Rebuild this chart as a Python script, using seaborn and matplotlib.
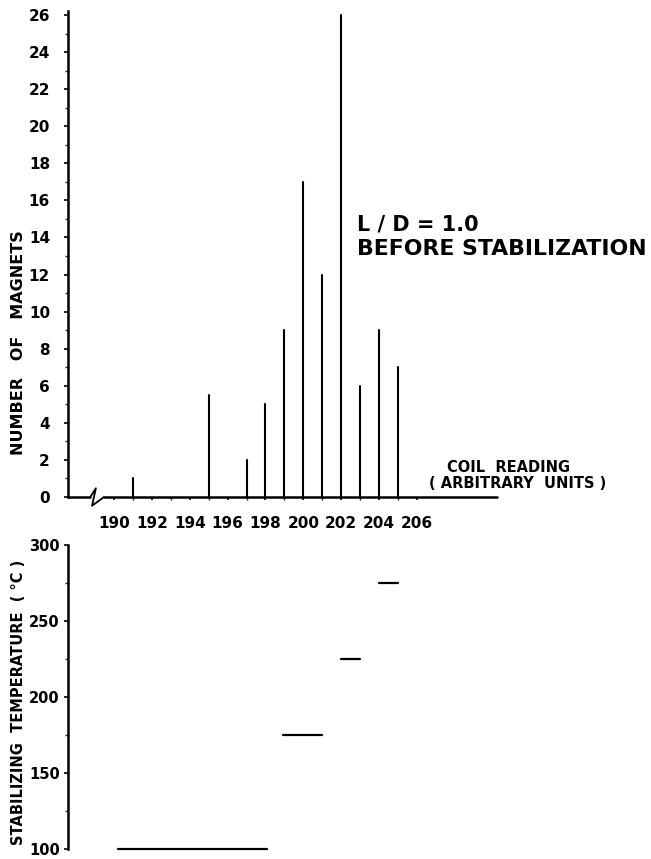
import matplotlib
matplotlib.use("Agg")
import matplotlib.pyplot as plt
from matplotlib.ticker import MultipleLocator, FixedLocator
import seaborn as sns
import pandas as pd

# ---- data ----
coil_reading = [191, 195, 197, 198, 199, 200, 201, 202, 203, 204, 205]
num_magnets = [1, 5.5, 2, 5, 9, 17, 12, 26, 6, 9, 7]

seg_start = [190.2, 198.9, 202.0, 204.0]
seg_end = [198.1, 201.0, 203.0, 205.0]
seg_temp = [100, 175, 225, 275]

x_ticks = [190, 192, 194, 196, 198, 200, 202, 204, 206]
y_ticks_top = [0, 2, 4, 6, 8, 10, 12, 14, 16, 18, 20, 22, 24, 26]
y_ticks_bot = [100, 150, 200, 250, 300]

sns.set_theme(style="ticks")
plt.rcParams["font.family"] = ["DejaVu Sans"]
plt.rcParams["text.color"] = "black"

W, H = 651, 859
fig = plt.figure(figsize=(W / 100, H / 100), dpi=100)

def fx(px):
    return px / W

def fy(py):
    return (H - py) / H

LW = 1.8
XLIM = (187.55, 210.25)

# ---- top panel ----
ax1 = fig.add_axes([fx(68), fy(497), fx(497) - fx(68), (497 - 11.3) / H])
rows = []
for i, (c, n) in enumerate(zip(coil_reading, num_magnets)):
    rows.append({"stick": i, "coil": c, "count": 0})
    rows.append({"stick": i, "coil": c, "count": n})
df_top = pd.DataFrame(rows)
sns.lineplot(data=df_top, x="coil", y="count", units="stick", estimator=None,
             sort=False, color="black", lw=1.5, ax=ax1)
ax1.set_xlim(*XLIM)
ax1.set_ylim(0, 26.2)
ax1.set_xlabel("")
ax1.set_ylabel("")
for s in ["top", "right", "bottom"]:
    ax1.spines[s].set_visible(False)
ax1.spines["left"].set_linewidth(LW)
ax1.spines["left"].set_color("black")

ax1.yaxis.set_major_locator(FixedLocator(y_ticks_top))
ax1.set_yticklabels([str(v) for v in y_ticks_top])
ax1.yaxis.set_minor_locator(MultipleLocator(1))
ax1.tick_params(axis="y", which="major", direction="out", length=3, width=1.2,
                pad=10, labelsize=11, colors="black")
ax1.tick_params(axis="y", which="minor", direction="out", length=2, width=1.0)
for t in ax1.get_yticklabels():
    t.set_fontweight("bold")

ax1.xaxis.set_major_locator(FixedLocator(x_ticks))
ax1.set_xticklabels([str(v) for v in x_ticks])
ax1.xaxis.set_minor_locator(FixedLocator(list(range(190, 207))))
ax1.tick_params(axis="x", which="major", direction="out", length=2, width=1.2,
                pad=12, labelsize=11, colors="black")
ax1.tick_params(axis="x", which="minor", direction="out", length=2, width=1.0)
for t in ax1.get_xticklabels():
    t.set_fontweight("bold")

# x axis line with break symbol (decoration, axes fraction)
tr = ax1.transAxes
ax1.plot([0, 0.052], [0, 0], color="black", lw=LW, transform=tr, clip_on=False)
ax1.plot([0.052, 0.065, 0.056, 0.084], [0.0, 0.018, -0.018, 0.0],
         color="black", lw=1.3, transform=tr, clip_on=False)
ax1.plot([0.084, 1.0], [0, 0], color="black", lw=LW, transform=tr, clip_on=False)

# ---- bottom panel ----
ax2 = fig.add_axes([fx(68), fy(849), fx(497) - fx(68), (849 - 545) / H])
rows = []
for i, (a, b, t) in enumerate(zip(seg_start, seg_end, seg_temp)):
    rows.append({"seg": i, "x": a, "temp": t})
    rows.append({"seg": i, "x": b, "temp": t})
df_bot = pd.DataFrame(rows)
sns.lineplot(data=df_bot, x="x", y="temp", units="seg", estimator=None,
             color="black", lw=1.6, ax=ax2)
for ln in ax2.lines:
    ln.set_clip_on(False)
ax2.set_xlim(*XLIM)
ax2.set_ylim(100, 300)
ax2.set_xlabel("")
ax2.set_ylabel("")
for s in ["top", "right", "bottom"]:
    ax2.spines[s].set_visible(False)
ax2.spines["left"].set_linewidth(LW)
ax2.spines["left"].set_color("black")
ax2.set_xticks([])
ax2.yaxis.set_major_locator(FixedLocator(y_ticks_bot))
ax2.set_yticklabels([str(v) for v in y_ticks_bot])
ax2.yaxis.set_minor_locator(MultipleLocator(25))
ax2.tick_params(axis="y", which="major", direction="out", length=3, width=1.2,
                pad=3, labelsize=10.5, colors="black")
ax2.tick_params(axis="y", which="minor", direction="out", length=2, width=1.0)
for t in ax2.get_yticklabels():
    t.set_fontweight("bold")

# ---- texts ----
fig.text(fx(19), fy(343), "NUMBER   OF   MAGNETS", rotation=90, ha="center",
         va="center", fontsize=11.5, fontweight="bold", color="black")
fig.text(fx(19), fy(702), "STABILIZING  TEMPERATURE  ( °C )", rotation=90,
         ha="center", va="center", fontsize=10.5, fontweight="bold",
         color="black")
fig.text(fx(357), fy(230), "L / D = 1.0", ha="left", va="baseline",
         fontsize=15, fontweight="bold", color="black")
fig.text(fx(357), fy(255), "BEFORE STABILIZATION", ha="left", va="baseline",
         fontsize=15.8, fontweight="bold", color="black")
fig.text(fx(509), fy(472), "COIL  READING", ha="center", va="baseline",
         fontsize=10.5, fontweight="bold", color="black")
fig.text(fx(518), fy(488), "( ARBITRARY  UNITS )", ha="center", va="baseline",
         fontsize=10.5, fontweight="bold", color="black")

fig.savefig("out.png", dpi=100, facecolor="white")
